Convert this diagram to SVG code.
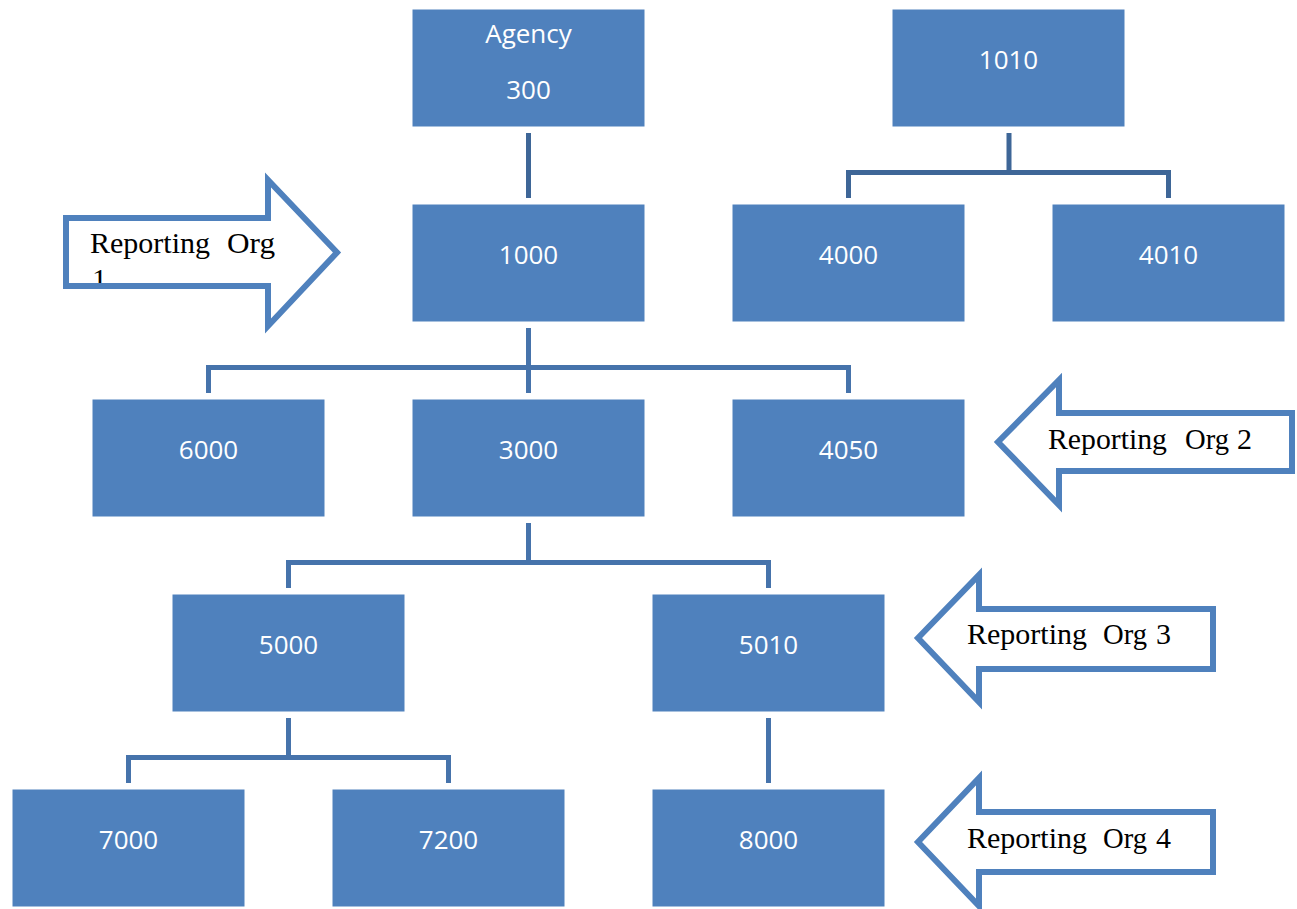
<svg xmlns="http://www.w3.org/2000/svg" width="1297" height="909" viewBox="0 0 1297 909">
<style>
.box{fill:#4f81bd;stroke:#ffffff;stroke-width:1}
.lbl{font-family:"Open Sans","Liberation Sans",sans-serif;font-size:26px;fill:#ffffff;text-anchor:middle}
.conA{fill:none;stroke:#3e6697;stroke-width:5}
.conB{fill:none;stroke:#4673ab;stroke-width:5}
.arr{fill:#ffffff;stroke:#4f81bd;stroke-width:6;stroke-linejoin:miter}
.rt{font-family:"Liberation Serif","Times New Roman",serif;font-size:30px;fill:#000000}
</style>
<defs>
<clipPath id="clip1"><rect x="69" y="221" width="225" height="62"/></clipPath>
</defs>
<rect width="1297" height="909" fill="#ffffff"/>
<g id="connectors">
<path class="conA" d="M528.5 133 V198"/>
<path class="conA" d="M1009 133 V172.5 M848.5 198 V172.5 H1168.5 V198"/>
<path class="conB" d="M528.5 328 V393 M208.5 393 V367.5 H848.5 V393"/>
<path class="conB" d="M528.5 523 V562.5 M288.5 588 V562.5 H768.5 V588"/>
<path class="conB" d="M288.5 718 V757.5 M128.5 783 V757.5 H448.5 V783"/>
<path class="conB" d="M768.5 718 V783"/>
</g>
<g id="n300"><rect class="box" x="412" y="9" width="233" height="118"/><text class="lbl" x="528.5" y="43">Agency</text><text class="lbl" x="528.5" y="99">300</text></g>
<g id="n1010"><rect class="box" x="892" y="9" width="233" height="118"/><text class="lbl" x="1008.5" y="69">1010</text></g>
<g id="n1000"><rect class="box" x="412" y="204" width="233" height="118"/><text class="lbl" x="528.5" y="264">1000</text></g>
<g id="n4000"><rect class="box" x="732" y="204" width="233" height="118"/><text class="lbl" x="848.5" y="264">4000</text></g>
<g id="n4010"><rect class="box" x="1052" y="204" width="233" height="118"/><text class="lbl" x="1168.5" y="264">4010</text></g>
<g id="n6000"><rect class="box" x="92" y="399" width="233" height="118"/><text class="lbl" x="208.5" y="459">6000</text></g>
<g id="n3000"><rect class="box" x="412" y="399" width="233" height="118"/><text class="lbl" x="528.5" y="459">3000</text></g>
<g id="n4050"><rect class="box" x="732" y="399" width="233" height="118"/><text class="lbl" x="848.5" y="459">4050</text></g>
<g id="n5000"><rect class="box" x="172" y="594" width="233" height="118"/><text class="lbl" x="288.5" y="654">5000</text></g>
<g id="n5010"><rect class="box" x="652" y="594" width="233" height="118"/><text class="lbl" x="768.5" y="654">5010</text></g>
<g id="n7000"><rect class="box" x="12" y="789" width="233" height="118"/><text class="lbl" x="128.5" y="849">7000</text></g>
<g id="n7200"><rect class="box" x="332" y="789" width="233" height="118"/><text class="lbl" x="448.5" y="849">7200</text></g>
<g id="n8000"><rect class="box" x="652" y="789" width="233" height="118"/><text class="lbl" x="768.5" y="849">8000</text></g>
<g id="arrow1">
<polygon class="arr" points="66,218 268,218 268,180 337,252.5 268,326 268,286 66,286"/>
<g clip-path="url(#clip1)">
<text class="rt" x="90" y="253" textLength="120" lengthAdjust="spacingAndGlyphs">Reporting</text>
<text class="rt" x="227" y="253" textLength="48" lengthAdjust="spacingAndGlyphs">Org</text>
<text class="rt" x="92" y="289">1</text>
</g>
</g>
<g id="arrow2">
<polygon class="arr" points="1292,413 1059,413 1059,380 998,442 1059,505 1059,471 1292,471"/>
<text class="rt" x="1048" y="449" textLength="119" lengthAdjust="spacingAndGlyphs">Reporting</text>
<text class="rt" x="1185" y="449" textLength="44" lengthAdjust="spacingAndGlyphs">Org</text>
<text class="rt" x="1237" y="449">2</text>
</g>
<g id="arrow3">
<polygon class="arr" points="1213,609 979,609 979,575 918,638 979,702 979,669 1213,669"/>
<text class="rt" x="967" y="644" textLength="120" lengthAdjust="spacingAndGlyphs">Reporting</text>
<text class="rt" x="1103" y="644" textLength="44" lengthAdjust="spacingAndGlyphs">Org</text>
<text class="rt" x="1156" y="644">3</text>
</g>
<g id="arrow4">
<polygon class="arr" points="1213,812 979,812 979,778 918,842 979,906 979,872 1213,872"/>
<text class="rt" x="967" y="848" textLength="120" lengthAdjust="spacingAndGlyphs">Reporting</text>
<text class="rt" x="1103" y="848" textLength="44" lengthAdjust="spacingAndGlyphs">Org</text>
<text class="rt" x="1156" y="848">4</text>
</g>
</svg>
